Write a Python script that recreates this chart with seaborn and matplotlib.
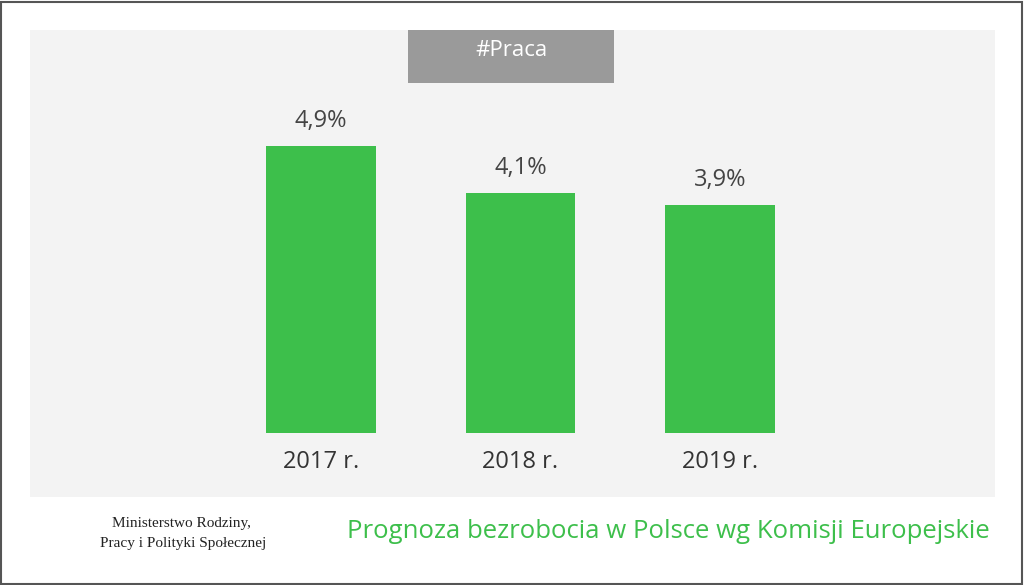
import matplotlib.pyplot as plt
import matplotlib.patches as mpatches
import seaborn as sns
import pandas as pd

years = ["2017 r.", "2018 r.", "2019 r."]
rates = [4.9, 4.1, 3.9]
value_labels = ["4,9%", "4,1%", "3,9%"]

W, H = 1024, 585
fig = plt.figure(figsize=(W / 100, H / 100), dpi=100)
fig.patch.set_facecolor("white")


def fx(px):
    return px / W


def fy(py):
    return 1 - py / H


# light panel behind the chart
fig.patches.append(mpatches.Rectangle((fx(30), fy(497)), fx(965), (497 - 30) / H,
                                      transform=fig.transFigure, facecolor="#f3f3f3",
                                      edgecolor="none", zorder=-2))
# outer frame
fig.patches.append(mpatches.Rectangle((0.001, 0.002), 0.997, 0.995, transform=fig.transFigure,
                                      facecolor="none", edgecolor="#555555", linewidth=1.5, zorder=5))
# tag box
fig.patches.append(mpatches.Rectangle((fx(408), fy(83)), fx(206), 53 / H,
                                      transform=fig.transFigure, facecolor="#9a9a9a",
                                      edgecolor="none", zorder=-1))

ax = fig.add_axes([fx(30), fy(433), fx(965), (433 - 30) / H])
ax.set_zorder(3)
ax.set_facecolor("none")
df = pd.DataFrame({"year": years, "rate": rates})
sns.barplot(data=df, x="year", y="rate", color="#3dbf4b", width=0.55, saturation=1, ax=ax)
for patch in ax.patches:
    patch.set_edgecolor("none")
ax.set_xlim((30 - 321) / 199.5, (995 - 321) / 199.5)
ax.set_ylim(0, 403 / 58.57)
ax.axis("off")

for i, (r, lab) in enumerate(zip(rates, value_labels)):
    ax.text(i, r + 0.22, lab, ha="center", va="bottom", fontsize=17, color="#444444",
            family="Open Sans")
    ax.text(i, -0.5, years[i], ha="center", va="center", fontsize=17, color="#333333",
            family="Open Sans", clip_on=False)

fig.text(fx(511), fy(50), "#Praca", ha="center", va="center", fontsize=16, color="white",
         family="Open Sans", zorder=4)

fig.text(fx(112), fy(523), "Ministerstwo Rodziny,", ha="left", va="center", fontsize=11,
         color="#222222", family="Liberation Serif")
fig.text(fx(100), fy(543), "Pracy i Polityki Społecznej", ha="left", va="center", fontsize=11,
         color="#222222", family="Liberation Serif")
fig.text(fx(990), fy(532), "Prognoza bezrobocia w Polsce wg Komisji Europejskie", ha="right",
         va="center", fontsize=18.5, color="#3dbf4b", family="Open Sans")

fig.savefig("out.png", dpi=100)
